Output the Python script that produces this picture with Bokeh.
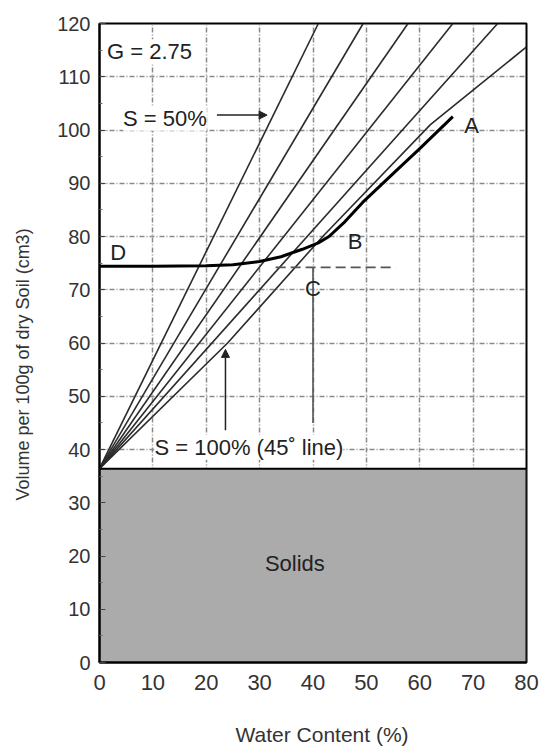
from bokeh.plotting import figure
from bokeh.models import Range1d, Label, Arrow, NormalHead, FixedTicker, Title
from bokeh.embed import file_html
from bokeh.resources import INLINE

# ---------------- data ----------------
x_ticks = [0, 10, 20, 30, 40, 50, 60, 70, 80]
y_ticks = [0, 10, 20, 30, 40, 50, 60, 70, 80, 90, 100, 110, 120]
y_minor = [5, 15, 25, 35, 45, 55, 65, 75, 85, 95, 105, 115]

solids_top = 36.4          # 100 / G, G = 2.75

# saturation lines S = 50 ... 90 %, from the solids line to the top edge
sat_names = ["50%", "60%", "70%", "80%", "90%"]
sat_x0 = [0, 0, 0, 0, 0]
sat_y0 = [36.4, 36.4, 36.4, 36.4, 36.4]
sat_x1 = [41.0, 49.4, 57.8, 66.2, 74.6]
sat_y1 = [120, 120, 120, 120, 120]

# S = 100 % line
s100_w = [0, 24, 42, 62, 80]
s100_v = [36.4, 60.0, 80.2, 101.0, 115.6]

# shrinkage curve D - B - A
curve_w = [0, 10, 20, 25, 30, 34, 38, 41, 43, 46, 49.3, 55, 60, 66.2]
curve_v = [74.4, 74.4, 74.5, 74.7, 75.3, 76.2, 77.6, 78.8, 80.0, 82.8, 86.4, 91.8, 96.5, 102.5]

# shrinkage limit construction (C)
limit_x = [33, 55.5]
limit_v = [74.2, 74.2]
c_x = [40, 40]
c_v = [45, 74.2]

# ---------------- figure ----------------
FONT = "Liberation Sans"
TXT = "#222222"

p = figure(width=543, height=751, output_backend="svg", toolbar_location=None,
           x_range=Range1d(0, 80), y_range=Range1d(0, 120),
           min_border_left=99, min_border_right=17, min_border_top=23,
           min_border_bottom=89)
p.background_fill_color = "white"
p.border_fill_color = "white"
p.outline_line_color = "black"
p.outline_line_width = 2

# axes
p.xaxis.ticker = FixedTicker(ticks=x_ticks)
p.yaxis.ticker = FixedTicker(ticks=y_ticks, minor_ticks=y_minor)
for ax in (p.xaxis, p.yaxis):
    ax.axis_line_color = "black"
    ax.axis_line_width = 2
    ax.major_label_text_font = FONT
    ax.major_label_text_color = "#333333"
    ax.major_tick_out = 0
    ax.minor_tick_out = 0
p.yaxis.major_tick_in = 6
p.yaxis.minor_tick_in = 3
p.yaxis.major_tick_line_color = "#444444"
p.yaxis.minor_tick_line_color = "#666666"
p.xaxis.major_tick_in = 0
p.xaxis.minor_tick_line_color = None
p.xaxis.major_tick_line_color = None

p.xaxis.major_label_text_font_size = "22px"
p.yaxis.major_label_text_font_size = "20px"
p.xaxis.major_label_standoff = 12
p.yaxis.major_label_standoff = 9

# axis titles, placed as in the picture (blank spacer titles push them outward)
p.add_layout(Title(text=" ", text_font_size="10px"), "below")
p.add_layout(Title(text="Water Content (%)", align="left", offset=136,
                   text_font=FONT, text_font_size="21px", text_font_style="normal",
                   text_color="#333333"), "below")
p.add_layout(Title(text=" ", text_font_size="4px"), "left")
p.add_layout(Title(text="Volume per 100g of dry Soil (cm3)", align="left", offset=162,
                   text_font=FONT, text_font_size="18px",
                   text_font_style="normal", text_color="#333333"), "left")

# grid
for g in (p.xgrid, p.ygrid):
    g.grid_line_color = "#8a8a8a"
    g.grid_line_width = 1.5
    g.grid_line_dash = "5 2 1 2"

# solids block
p.quad(left=[0], right=[80], bottom=[0], top=[solids_top],
       fill_color="#ababab", line_color="black", line_width=2)

# saturation lines
p.segment(x0=sat_x0, y0=sat_y0, x1=sat_x1, y1=sat_y1,
          line_color="#2b2b2b", line_width=1.6)
p.line(s100_w, s100_v, line_color="#2b2b2b", line_width=1.6)

# construction lines
p.line(limit_x, limit_v, line_color="#555555", line_width=1.6, line_dash="10 5")
p.line(c_x, c_v, line_color="#555555", line_width=1.6)

# shrinkage curve
p.line(curve_w, curve_v, line_color="black", line_width=3)

# arrows
p.add_layout(Arrow(end=NormalHead(size=8, fill_color="#222222", line_color="#222222"),
                   x_start=22, y_start=102.8, x_end=31.4, y_end=102.8,
                   line_color="#222222", line_width=1.5))
p.add_layout(Arrow(end=NormalHead(size=8, fill_color="#222222", line_color="#222222"),
                   x_start=23.6, y_start=43.6, x_end=23.6, y_end=58.8,
                   line_color="#222222", line_width=1.5))

# labels
def lab(x, y, t, align="left", bg=None, size="22px"):
    kw = dict(x=x, y=y, text=t, text_font=FONT, text_font_size=size,
              text_color=TXT, text_align=align, text_baseline="middle")
    if bg:
        kw.update(background_fill_color=bg, background_fill_alpha=1.0)
    p.add_layout(Label(**kw))

lab(1.4, 114.7, "G = 2.75", bg="white")
lab(4.4, 102.2, "S = 50%", bg="white")
lab(10.3, 40.4, "S = 100% (45\u02da line)", bg="white")
lab(2.0, 77.0, "D")
lab(69.7, 100.8, "A", align="center")
lab(47.9, 79.0, "B", align="center")
lab(40.0, 70.3, "C", align="center")
lab(36.6, 18.6, "Solids", align="center")

open("out.html", "w").write(file_html(p, INLINE))
